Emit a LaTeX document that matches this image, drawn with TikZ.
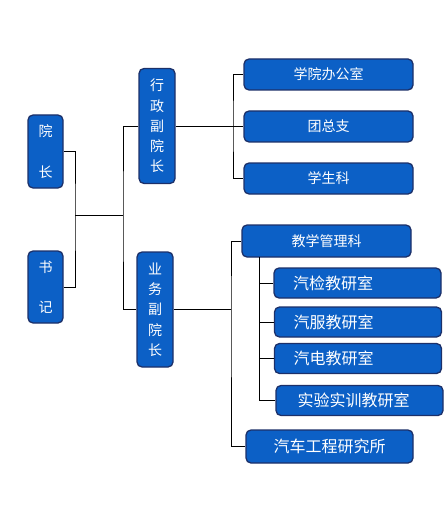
\documentclass[tikz,border=0pt]{standalone}
\usepackage{fontspec}
\newfontfamily\cjk{Noto Sans CJK SC}
\definecolor{boxfill}{RGB}{12,96,198}
\definecolor{boxline}{RGB}{28,48,105}
\begin{document}
\begin{tikzpicture}[x=1pt,y=-1pt,
  box/.style={draw=boxline,line width=1.3pt,fill=boxfill,rounded corners=5pt,
    text=white,inner sep=0pt,font=\cjk\fontsize{14}{14}\selectfont},
  vbox/.style={box,minimum width=36pt,align=center},
  hbox/.style={box,minimum width=169pt,minimum height=31pt},
  qbox/.style={box,minimum width=167pt,minimum height=30pt,text width=148pt,inner xsep=9.5pt,align=left,font=\cjk\fontsize{16}{16}\selectfont},
  conn/.style={draw=black,line width=0.9pt}]
\useasboundingbox (0,0) rectangle (447,505);
% left column
\node[vbox,minimum width=35pt,minimum height=73pt,font=\cjk\fontsize{14}{41}\selectfont] (yz) at (45.5,151.5) {院\\长};
\node[vbox,minimum width=35pt,minimum height=72pt,font=\cjk\fontsize{14}{40}\selectfont] (sj) at (45.5,287) {书\\记};
% vice presidents
\node[vbox,minimum height=115pt,font=\cjk\fontsize{14}{20.3}\selectfont] (xz) at (157,126) {行\\政\\副\\院\\长};
\node[vbox,minimum height=115pt,font=\cjk\fontsize{14}{20.3}\selectfont] (ywz) at (155,309.5) {业\\务\\副\\院\\长};
% admin offices
\node[hbox] (b1) at (328.5,74.5) {学院办公室};
\node[hbox] (b2) at (328.5,126.5) {团总支};
\node[hbox] (b3) at (328.5,178.5) {学生科};
% academic
\node[hbox,minimum height=32pt] (jx) at (326.5,241) {教学管理科};
\node[qbox] (q1) at (357.5,283) {\hspace*{9.5pt}汽检教研室};
\node[qbox,minimum width=166pt] (q2) at (358,322) {\hspace*{9.5pt}汽服教研室};
\node[qbox,minimum width=166pt] (q3) at (358,358.5) {\hspace*{9.5pt}汽电教研室};
\node[qbox] (q4) at (359.5,400.5) {\hspace*{12pt}实验实训教研室};
\node[hbox,minimum width=167pt,minimum height=33pt,font=\cjk\fontsize{16}{16}\selectfont] (yj) at (329.5,446.5) {汽车工程研究所};
% junctions
\coordinate (j1) at (75,215);
\coordinate (j2) at (123,215);
\coordinate (j3) at (233,126);
\coordinate (j4) at (231,309.5);
\coordinate (j5) at (259,257);
% connectors
\draw[conn] (yz.east) -| (j1) |- (sj.east);
\draw[conn] (j1) -- (j2);
\draw[conn] (xz.west) -| (j2) |- (ywz.west);
\draw[conn] (xz.east) -- (xz.east -| b2.west);
\draw[conn] (b1.west) -| (j3) |- (b3.west);
\draw[conn] (ywz.east) -- (j4);
\draw[conn] (jx.west) -| (j4) |- (yj.west);
\draw[conn] (j5) |- (q4.west);
\draw[conn] (q1.west) -- (q1.west -| j5);
\draw[conn] (q2.west) -- (q2.west -| j5);
\draw[conn] (q3.west) -- (q3.west -| j5);
\end{tikzpicture}
\end{document}
